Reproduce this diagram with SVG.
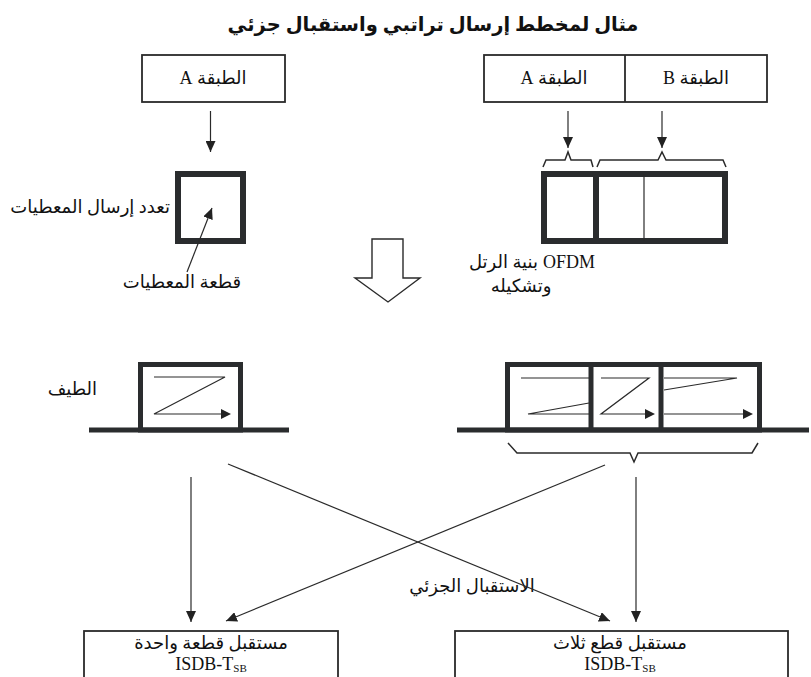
<svg xmlns="http://www.w3.org/2000/svg" width="811" height="677" viewBox="0 0 811 677">
<style>
.t{font-family:"Liberation Serif","DejaVu Sans",serif;font-size:18px;fill:#111}
.rtl{direction:rtl}
.title{font-family:"Liberation Serif","DejaVu Sans",serif;font-size:19.5px;font-weight:bold;fill:#111}
.box{fill:#fff;stroke:#2a2a2a;stroke-width:1.8}
.thick{fill:none;stroke:#2a2c2e;stroke-width:6}
.spec{fill:none;stroke:#2a2c2e;stroke-width:5}
.thin{fill:none;stroke:#2a2a2a;stroke-width:1.2}
.conn{fill:none;stroke:#2a2a2a;stroke-width:1.2}
.brace{fill:none;stroke:#2a2a2a;stroke-width:1.5}
.head{fill:#222}
</style>
<defs>
<marker id="ah" markerUnits="userSpaceOnUse" markerWidth="12" markerHeight="10" refX="11" refY="5" orient="auto">
<path d="M0,0 L11,5 L0,10 Z" fill="#222"/>
</marker>
</defs>
<text class="title rtl" x="433" y="31" text-anchor="middle">مثال لمخطط إرسال تراتبي واستقبال جزئي</text>

<g id="layerA-left">
<rect class="box" x="142" y="55" width="143" height="47"/>
<text class="t rtl" x="213" y="84" text-anchor="middle">الطبقة A</text>
</g>

<g id="layers-right">
<rect class="box" x="484" y="55" width="283" height="47"/>
<line class="box" x1="625" y1="55" x2="625" y2="102"/>
<text class="t rtl" x="554" y="84" text-anchor="middle">الطبقة A</text>
<text class="t rtl" x="696" y="84" text-anchor="middle">الطبقة B</text>
</g>

<g id="segment">
<rect class="thick" x="178" y="174" width="65" height="67"/>
<text class="t rtl" x="170" y="213" text-anchor="start">تعدد إرسال المعطيات</text>
<text class="t rtl" x="182" y="288" text-anchor="middle">قطعة المعطيات</text>
</g>

<g id="ofdm-frame">
<path class="brace" d="M543,167 L546,160 L565,160 L568,152 L571,160 L591,160 L593,167"/>
<path class="brace" d="M597,167 L600,160 L658,160 L662,152 L666,160 L723,160 L726,167"/>
<rect class="thick" x="544" y="174" width="181" height="67"/>
<line class="thick" x1="596" y1="171" x2="596" y2="244" stroke-width="5.5"/>
<line class="thin" x1="644" y1="174" x2="644" y2="241" stroke-width="1.6"/>
<text class="t rtl" x="538" y="268" text-anchor="start">بنية الرتل</text>
<text class="t" x="543" y="268" text-anchor="start">OFDM</text>
<text class="t rtl" x="521" y="292" text-anchor="middle">وتشكيله</text>
</g>

<g id="hollow-arrow">
<path d="M372,239 L403,239 L403,278 L420,278 L388,302 L355,278 L372,278 Z" fill="#fff" stroke="#2a2a2a" stroke-width="1.4" stroke-linejoin="miter"/>
</g>

<g id="spectrum-left">
<line class="spec" x1="89" y1="430" x2="289" y2="430"/>
<rect class="spec" x="140.5" y="364.5" width="100" height="65.5"/>
<path class="thin" d="M154,377 L225,377 L154,414 L222,414"/>
<path class="head" d="M221,409 L231,414 L221,419 Z"/>
<text class="t rtl" x="97" y="395" text-anchor="start">الطيف</text>
</g>

<g id="spectrum-right">
<line class="spec" x1="457" y1="430" x2="809" y2="430"/>
<rect class="spec" x="507.5" y="364.5" width="252" height="65.5"/>
<line class="spec" x1="591" y1="362" x2="591" y2="432"/>
<line class="spec" x1="661" y1="362" x2="661" y2="432"/>
<path class="thin" d="M521,378 L589,378"/>
<path class="thin" d="M589,403 L528,414 L589,414"/>
<path class="thin" d="M601,378 L649,378 L601,414 L646,414"/>
<path class="head" d="M645,409 L655,414 L645,419 Z"/>
<path class="thin" d="M664,390 L737,378 L664,378"/>
<path class="thin" d="M664,414 L744,414"/>
<path class="head" d="M743,409 L753,414 L743,419 Z"/>
<path class="brace" d="M508,443 L517,453 L630,453 L634,462 L638,453 L752,453 L758,443"/>
</g>

<g id="receiver-one">
<rect class="box" x="84" y="631" width="254" height="47"/>
<text class="t rtl" x="211" y="649" text-anchor="middle" font-size="17">مستقبل قطعة واحدة</text>
<text class="t" x="211" y="670" text-anchor="middle" font-size="17">ISDB-T<tspan font-size="11" dy="2">SB</tspan></text>
</g>

<g id="receiver-three">
<rect class="box" x="455" y="631" width="333" height="47"/>
<text class="t rtl" x="620" y="649" text-anchor="middle">مستقبل قطع ثلاث</text>
<text class="t" x="620" y="670" text-anchor="middle" font-size="17">ISDB-T<tspan font-size="11" dy="2">SB</tspan></text>
</g>

<text class="t rtl" x="472" y="592" text-anchor="middle">الاستقبال الجزئي</text>

<g id="connectors">
<line class="conn" x1="210.5" y1="111" x2="210.5" y2="152" marker-end="url(#ah)"/>
<line class="conn" x1="568" y1="111" x2="568" y2="148" marker-end="url(#ah)"/>
<line class="conn" x1="662" y1="111" x2="662" y2="148" marker-end="url(#ah)"/>
<line class="conn" x1="187" y1="272" x2="212" y2="208" marker-end="url(#ah)"/>
<line class="conn" x1="191" y1="477" x2="191" y2="622" marker-end="url(#ah)"/>
<line class="conn" x1="636" y1="477" x2="636" y2="622" marker-end="url(#ah)"/>
<line class="conn" x1="228" y1="464" x2="610" y2="621" marker-end="url(#ah)"/>
<line class="conn" x1="605" y1="465" x2="226" y2="621" marker-end="url(#ah)"/>
</g>
</svg>
